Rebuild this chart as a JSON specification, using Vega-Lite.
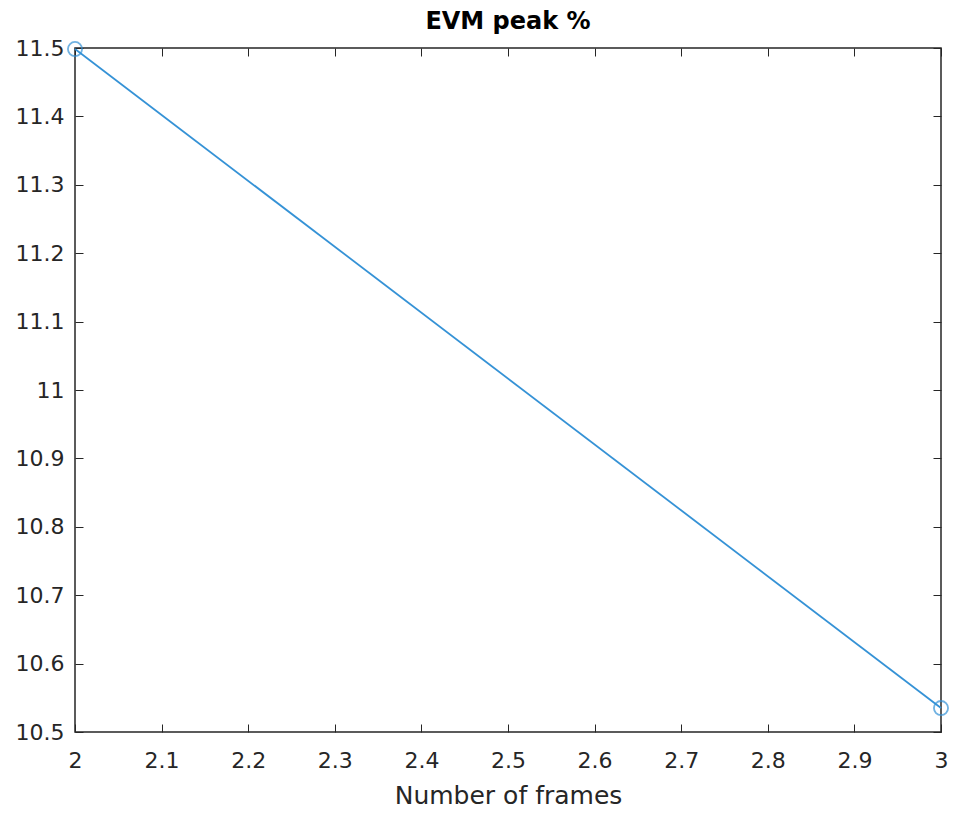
{
  "$schema": "https://vega.github.io/schema/vega-lite/v6.json",
  "width": 866,
  "height": 684,
  "autosize": {"type": "none"},
  "padding": {"left": 75, "top": 48, "right": 12, "bottom": 91},
  "background": "white",
  "title": {"text": "EVM peak %", "fontSize": 24, "font": "DejaVu Sans", "fontWeight": "bold", "color": "#000000", "offset": 3, "anchor": "middle"},
  "config": {
    "view": {"stroke": "#262626", "strokeWidth": 1.5},
    "axis": {"labelFont": "DejaVu Sans", "titleFont": "DejaVu Sans", "labelFontSize": 22, "titleFontSize": 25, "labelColor": "#262626", "titleColor": "#262626", "domainColor": "#262626", "tickColor": "#262626", "grid": false, "titleFontWeight": "normal"}
  },
  "data": {"values": [{"frames": 2, "evm": 11.4985}, {"frames": 3, "evm": 10.535}]},
  "resolve": {"axis": {"x": "independent", "y": "independent"}},
  "layer": [
    {
      "mark": {"type": "line", "color": "#3592D6", "strokeWidth": 1.8},
      "encoding": {
        "x": {"field": "frames", "type": "quantitative", "scale": {"domain": [2, 3], "nice": false, "zero": false}, "axis": {"title": "Number of frames", "values": [2, 2.1, 2.2, 2.3, 2.4, 2.5, 2.6, 2.7, 2.8, 2.9, 3], "format": "~g", "tickSize": -8, "labelPadding": 26, "titlePadding": 12, "domain": false, "labelFlush": false}},
        "y": {"field": "evm", "type": "quantitative", "scale": {"domain": [10.5, 11.5], "nice": false, "zero": false}, "axis": {"title": null, "values": [10.5, 10.6, 10.7, 10.8, 10.9, 11, 11.1, 11.2, 11.3, 11.4, 11.5], "format": "~g", "tickSize": -8, "labelPadding": 19, "domain": false, "labelFlush": false}}
      }
    },
    {
      "mark": {"type": "point", "shape": "circle", "filled": false, "color": "#3592D6", "size": 200, "strokeWidth": 1.8},
      "encoding": {
        "x": {"field": "frames", "type": "quantitative", "axis": {"orient": "top", "title": null, "labels": false, "values": [2, 2.1, 2.2, 2.3, 2.4, 2.5, 2.6, 2.7, 2.8, 2.9, 3], "tickSize": -8, "domain": false}},
        "y": {"field": "evm", "type": "quantitative", "axis": {"orient": "right", "title": null, "labels": false, "values": [10.5, 10.6, 10.7, 10.8, 10.9, 11, 11.1, 11.2, 11.3, 11.4, 11.5], "tickSize": -8, "domain": false}}
      }
    }
  ]
}
